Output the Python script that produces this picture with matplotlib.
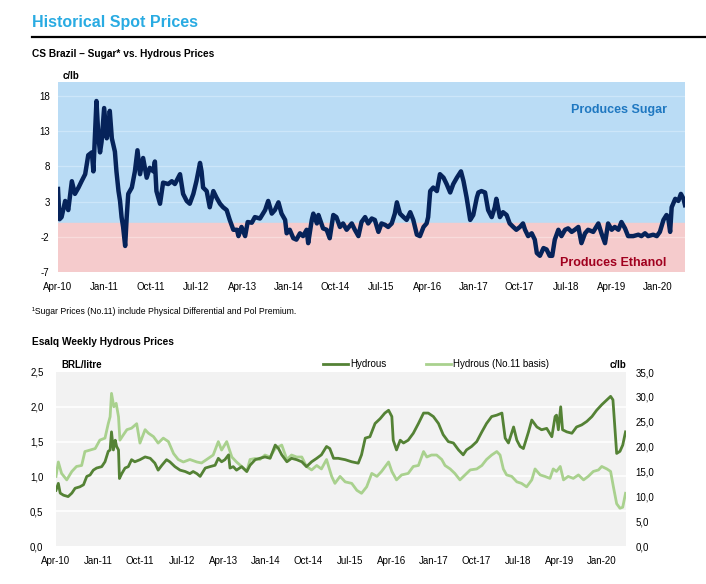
import numpy as np
import matplotlib.pyplot as plt
from matplotlib.lines import Line2D
from matplotlib.ticker import FuncFormatter

plt.rcParams['font.family'] = ['Liberation Sans', 'DejaVu Sans']
plt.rcParams['axes.unicode_minus'] = False

# x positions are months since Apr-2010
tick_labels = ["Apr-10", "Jan-11", "Oct-11", "Jul-12", "Apr-13", "Jan-14", "Oct-14",
               "Jul-15", "Apr-16", "Jan-17", "Oct-17", "Jul-18", "Apr-19", "Jan-20"]
tick_months = [0, 9, 18, 27, 36, 45, 54, 63, 72, 81, 90, 99, 108, 117]

# top chart: sugar (No.11 + premium) minus hydrous parity, c/lb
spread_m = [0, 0.3, 0.7, 1.4, 2.0, 2.7, 3.3, 4.0, 4.6, 5.3, 5.9, 6.6, 6.9, 7.2, 7.5, 7.9,
            8.2, 8.5, 9.0, 9.5, 9.8, 10.1, 10.5, 11.1, 11.4, 11.8, 12.1, 12.4, 12.7, 13.1,
            13.4, 13.7, 14.4, 15.0, 15.5, 16.0, 16.6, 17.3, 17.9, 18.6, 18.9, 19.2, 19.9,
            20.5, 21.5, 22.2, 22.8, 23.8, 24.4, 25.1, 25.7, 26.4, 27.0, 27.7, 28.0, 28.3,
            29.0, 29.6, 30.3, 30.9, 31.6, 32.2, 32.9, 33.5, 34.2, 34.9, 35.2, 35.8, 36.5,
            37.0, 37.8, 38.4, 39.4, 40.4, 41.0, 41.7, 42.3, 43.0, 43.6, 44.3, 44.6, 45.2,
            45.9, 46.5, 47.2, 47.8, 48.5, 48.8, 49.5, 49.8, 50.5, 50.8, 51.7, 52.4, 53.0,
            53.7, 54.3, 55.0, 55.6, 56.3, 57.3, 57.9, 58.6, 59.2, 59.9, 60.5, 61.2, 61.8,
            62.5, 63.1, 63.8, 64.4, 65.1, 65.7, 66.1, 66.7, 67.4, 68.0, 68.7, 69.3, 70.0,
            70.6, 71.3, 71.9, 72.2, 72.6, 73.2, 73.9, 74.5, 75.2, 75.8, 76.5, 77.1, 77.8,
            78.6, 79.1, 79.7, 80.4, 81.0, 81.7, 82.0, 82.6, 83.3, 83.9, 84.6, 85.2, 85.5,
            86.2, 86.8, 87.5, 88.1, 88.8, 89.4, 90.1, 90.7, 91.1, 91.7, 92.4, 93.0, 93.4,
            94.0, 94.7, 95.3, 95.9, 96.4, 96.9, 97.6, 98.2, 98.9, 99.5, 100.2, 100.8, 101.5,
            102.1, 102.8, 103.4, 104.4, 105.4, 106.0, 106.7, 107.3, 108.0, 108.6, 109.3,
            109.9, 110.6, 111.2, 112.2, 113.2, 113.8, 114.5, 115.1, 116.1, 116.8, 117.4,
            118.1, 118.7, 119.0, 119.4, 119.7, 120.4, 121.0, 121.5, 122.0, 122.3]
spread_v = [4.8, 0.5, 0.8, 3.1, 1.8, 5.9, 4.1, 5.0, 5.9, 6.9, 9.6, 10.0, 7.3, 12.4, 17.3, 12.0,
            10.0, 11.5, 16.3, 12.0, 13.0, 15.9, 12.0, 10.1, 7.3, 4.5, 3.1, 0.8, -0.6, -3.3,
            0.8, 4.1, 5.0, 7.3, 10.3, 6.9, 9.2, 6.4, 7.8, 7.3, 8.7, 4.5, 2.7,
            5.7, 5.5, 5.9, 5.5, 6.9, 4.1, 3.1, 2.7, 4.1, 5.9, 8.5, 7.3, 5.0,
            4.5, 2.2, 4.5, 3.6, 2.7, 2.2, 1.8, 0.4, -1.0, -1.0, -1.9, -0.6, -1.9,
            0.1, 0.0, 0.8, 0.6, 1.8, 3.1, 1.3, 1.8, 2.9, 1.3, 0.4, -1.5, -1.0,
            -2.2, -2.4, -1.5, -1.9, -1.0, -2.9, 0.4, 1.3, -0.1, 1.1, -0.8, -1.0, -2.2,
            1.1, 0.8, -0.6, -0.1, -1.0, -0.1, -1.0, -1.9, 0.1, 0.8, -0.1, 0.6, 0.4,
            -1.3, -0.1, -0.3, -0.6, -0.1, 1.3, 2.9, 1.3, 0.8, 0.4, 1.5, 0.4, -1.7,
            -1.9, -0.6, -0.1, 0.8, 4.5, 5.0, 4.5, 6.9, 6.4, 5.5, 4.3, 5.5, 6.4,
            7.3, 5.9, 3.6, 0.4, 1.1, 3.6, 4.3, 4.5, 4.3, 1.8, 0.8, 2.2, 3.4,
            0.8, 1.5, 1.1, -0.1, -0.6, -1.0, -0.6, -0.1, -1.0, -1.9, -1.5, -2.4, -4.3,
            -4.7, -3.6, -3.8, -4.7, -4.7, -2.4, -1.0, -1.9, -1.0, -0.8, -1.3, -1.0, -0.6,
            -2.9, -1.5, -1.0, -1.3, -0.1, -1.5, -2.9, -0.1, -1.0, -0.6, -1.0,
            0.1, -0.8, -1.9, -1.9, -1.7, -1.9, -1.5, -1.9, -1.7, -1.9, -1.3,
            0.4, 1.1, 0.8, -1.3, 2.2, 3.4, 3.1, 4.1, 3.4, 2.5]

# bottom chart: Esalq hydrous, BRL/litre (left axis)
hyd_m = [0, 0.5, 0.9, 1.6, 2.6, 3.4, 4.1, 5.1, 5.9, 6.6, 7.3, 8.0, 8.7, 9.8, 10.5, 11.2,
         11.6, 11.9, 12.3, 12.7, 13.0, 13.4, 13.6, 14.1, 14.8, 15.5, 16.2, 16.9, 18.0,
         19.1, 20.2, 21.2, 21.9, 22.7, 23.7, 24.4, 25.5, 26.6, 27.7, 28.7, 29.4, 30.2,
         30.9, 32.0, 33.0, 34.1, 34.8, 35.5, 36.2, 37.0, 37.3, 38.0, 38.7, 39.8, 40.9,
         41.6, 42.7, 43.7, 44.8, 45.9, 47.0, 47.7, 48.4, 49.5, 50.5, 51.6, 52.7, 53.7,
         54.8, 55.9, 56.9, 58.0, 58.7, 59.5, 60.5, 62.0, 63.4, 64.8, 65.5, 66.3, 67.3,
         68.4, 69.5, 70.5, 71.3, 72.0, 72.3, 73.0, 73.8, 74.5, 75.5, 76.6, 77.7, 78.8,
         79.8, 80.9, 82.0, 83.0, 84.1, 85.2, 86.3, 87.3, 88.0, 89.1, 90.2, 91.3, 92.3,
         93.4, 94.5, 95.6, 96.3, 97.0, 98.1, 98.8, 99.5, 100.2, 101.3, 102.0, 103.1,
         104.1, 105.2, 106.3, 107.0, 107.3, 107.7, 108.2, 108.6, 109.5, 110.6, 111.6,
         112.7, 113.8, 114.9, 115.9, 117.0, 118.1, 118.9, 119.4, 119.9, 120.2, 120.9,
         121.5, 122.1]
hyd_v = [0.80, 0.90, 0.76, 0.73, 0.71, 0.76, 0.83, 0.85, 0.88, 1.00, 1.02, 1.09, 1.12, 1.14, 1.21, 1.36,
         1.38, 1.64, 1.38, 1.52, 1.43, 1.38, 0.97, 1.04, 1.12, 1.14, 1.24, 1.21, 1.24,
         1.28, 1.26, 1.19, 1.09, 1.16, 1.24, 1.21, 1.14, 1.09, 1.07, 1.04, 1.07, 1.04,
         1.00, 1.12, 1.14, 1.16, 1.26, 1.21, 1.24, 1.31, 1.12, 1.14, 1.09, 1.14, 1.07,
         1.16, 1.24, 1.26, 1.28, 1.26, 1.45, 1.40, 1.31, 1.21, 1.26, 1.24, 1.21, 1.14,
         1.21, 1.26, 1.31, 1.43, 1.40, 1.26, 1.26, 1.24, 1.21, 1.19, 1.31, 1.55, 1.57,
         1.76, 1.83, 1.91, 1.95, 1.86, 1.52, 1.38, 1.52, 1.48, 1.52, 1.62, 1.76, 1.91,
         1.91, 1.86, 1.76, 1.60, 1.50, 1.48, 1.38, 1.31, 1.38, 1.43, 1.50, 1.64, 1.76,
         1.86, 1.88, 1.91, 1.55, 1.48, 1.71, 1.52, 1.43, 1.40, 1.64, 1.81, 1.71,
         1.67, 1.69, 1.57, 1.86, 1.88, 1.67, 2.00, 1.67, 1.64, 1.62, 1.71,
         1.74, 1.79, 1.86, 1.95, 2.03, 2.10, 2.15, 2.10, 1.62, 1.33, 1.36,
         1.45, 1.64]

# hydrous on No.11 basis, c/lb (right axis)
basis_m = [0, 0.5, 1.2, 2.3, 3.4, 4.4, 5.5, 6.2, 7.3, 8.4, 9.4, 10.5, 11.2, 11.6, 11.9, 12.4,
           12.9, 13.4, 13.7, 14.4, 15.2, 16.2, 17.3, 18.0, 19.1, 19.8, 20.9, 21.9, 23.0,
           24.1, 25.2, 26.2, 27.3, 28.7, 30.2, 31.2, 32.3, 33.7, 34.8, 35.5, 36.6, 37.7,
           38.7, 39.8, 40.9, 41.6, 42.7, 43.7, 44.8, 45.9, 47.0, 48.4, 49.5, 50.5, 51.6,
           52.7, 53.7, 54.8, 55.9, 56.9, 58.0, 59.1, 59.8, 60.9, 62.0, 63.4, 64.5, 65.5,
           66.6, 67.7, 68.8, 69.8, 71.3, 72.0, 73.0, 74.1, 75.5, 76.6, 77.7, 78.8, 79.5,
           80.5, 81.6, 82.7, 83.4, 84.5, 85.5, 86.6, 87.7, 88.8, 90.2, 91.3, 92.3, 93.4,
           94.5, 95.2, 95.9, 96.6, 97.7, 98.8, 99.8, 100.9, 102.0, 102.7, 103.8, 104.8,
           105.9, 106.6, 107.3, 108.1, 108.8, 109.8, 110.9, 112.0, 113.1, 114.1, 115.2,
           116.3, 117.0, 118.1, 118.9, 119.5, 120.2, 120.9, 121.5, 122.1]
basis_v = [14.0, 16.9, 14.6, 13.3, 15.0, 16.0, 16.2, 19.0, 19.3, 19.6, 21.3, 21.7, 24.6, 26.0, 30.7, 28.0,
           28.7, 26.0, 21.3, 22.3, 23.4, 23.7, 24.6, 20.7, 23.4, 22.7, 22.0, 20.7, 21.7,
           21.0, 18.6, 17.4, 16.9, 17.4, 16.9, 16.7, 17.4, 18.3, 21.0, 19.3, 21.0, 17.9,
           16.9, 16.0, 15.0, 17.4, 17.6, 17.4, 18.3, 17.9, 19.6, 20.3, 17.4, 18.3, 17.9,
           17.9, 16.0, 15.3, 16.2, 15.5, 17.4, 14.0, 12.6, 14.0, 12.9, 12.6, 11.2, 10.6,
           11.9, 14.6, 14.0, 15.0, 16.9, 15.0, 13.3, 14.3, 14.6, 16.0, 16.2, 19.0, 17.9,
           18.3, 18.3, 17.4, 16.2, 15.5, 14.6, 13.3, 14.3, 15.3, 15.5, 16.2, 17.4, 18.3,
           19.0, 18.3, 15.5, 14.3, 14.0, 12.9, 12.6, 11.9, 13.3, 15.5, 14.3, 14.0,
           13.6, 15.5, 15.0, 16.0, 13.3, 14.0, 13.6, 14.3, 13.3, 14.0, 15.0,
           15.3, 16.0, 15.5, 15.0, 11.9, 8.5, 7.6, 7.8, 10.6]

fig = plt.figure(figsize=(7.06, 5.84), dpi=100)

# page headings
fig.text(32 / 706, 1 - 22 / 584, "Historical Spot Prices", fontsize=11.5, fontweight='bold',
         color='#29abe2', va='center', ha='left')
fig.add_artist(Line2D([32 / 706, 1.0], [1 - 36.5 / 584] * 2, color='black', lw=1.6))
fig.text(32 / 706, 1 - 54 / 584, "CS Brazil \u2013 Sugar* vs. Hydrous Prices", fontsize=7.3,
         fontweight='bold', va='center', ha='left')
fig.text(32 / 706, 1 - 311 / 584,
         "\u00b9Sugar Prices (No.11) include Physical Differential and Pol Premium.",
         fontsize=6.2, va='center', ha='left')
fig.text(32 / 706, 1 - 342 / 584, "Esalq Weekly Hydrous Prices", fontsize=7.3,
         fontweight='bold', va='center', ha='left')

# ---- top chart
ax1 = fig.add_axes([58 / 706, 1 - 272 / 584, 627 / 706, 190 / 584])
ax1.axhspan(0, 20, color='#badcf5', zorder=0)
ax1.axhspan(-7, 0, color='#f5cbcc', zorder=0)
for g in [18, 13, 8, 3]:
    ax1.axhline(g, color='#cde6f9', lw=0.9, zorder=1)
ax1.axhline(-2, color='#f8dcdc', lw=0.9, zorder=1)
ax1.plot(spread_m, spread_v, color='#06235a', lw=3.2, zorder=3, solid_joinstyle='round')
ax1.set_xlim(0, 122.3)
ax1.set_ylim(-7, 20)
ax1.set_yticks([-7, -2, 3, 8, 13, 18])
ax1.set_xticks(tick_months)
ax1.set_xticklabels(tick_labels)
for s in ax1.spines.values():
    s.set_visible(False)
ax1.tick_params(length=0, labelsize=7)
ax1.tick_params(axis='y', pad=6)
ax1.tick_params(axis='x', pad=7)
ax1.text(5 / 627, 1.003, "c/lb", transform=ax1.transAxes, fontsize=7, fontweight='bold',
         ha='left', va='bottom')
ax1.text(0.895, 0.85, "Produces Sugar", transform=ax1.transAxes, fontsize=9,
         fontweight='bold', color='#1f78c1', ha='center', va='center')
ax1.text(0.885, 0.045, "Produces Ethanol", transform=ax1.transAxes, fontsize=9,
         fontweight='bold', color='#a0001e', ha='center', va='center', zorder=4)

# ---- bottom chart
ax2 = fig.add_axes([56 / 706, 1 - 546 / 584, 570 / 706, 174 / 584])
ax3 = ax2.twinx()
ax3.patch.set_visible(True)
ax3.set_facecolor('#f2f2f2')
for g in [7, 14, 21, 28]:
    ax3.axhline(g, color='white', lw=1.2, zorder=1)
ax2.plot(hyd_m, hyd_v, color='#548235', lw=2.0, zorder=4)
ax3.plot(basis_m, basis_v, color='#a9d18e', lw=2.0, zorder=3)
ax2.set_zorder(ax3.get_zorder() + 1)
ax2.patch.set_visible(False)
ax2.set_xlim(0, 122.2)
ax2.set_ylim(0, 2.5)
ax3.set_ylim(0, 35)
ax2.set_yticks([0, 0.5, 1.0, 1.5, 2.0, 2.5])
ax3.set_yticks([0, 5, 10, 15, 20, 25, 30, 35])
ax2.yaxis.set_major_formatter(FuncFormatter(lambda v, p: f"{v:.1f}".replace('.', ',')))
ax3.yaxis.set_major_formatter(FuncFormatter(lambda v, p: f"{v:.1f}".replace('.', ',')))
ax2.set_xticks(tick_months)
ax2.set_xticklabels(tick_labels)
for a in (ax2, ax3):
    for s in a.spines.values():
        s.set_visible(False)
    a.tick_params(length=0, labelsize=7)
ax2.tick_params(axis='y', pad=9)
ax3.tick_params(axis='y', pad=7)
ax2.tick_params(axis='x', pad=7)
ax2.text(5 / 570, 1.01, "BRL/litre", transform=ax2.transAxes, fontsize=7, fontweight='bold',
         ha='left', va='bottom')
ax2.text(1.0, 1.01, "c/lb", transform=ax2.transAxes, fontsize=7, fontweight='bold',
         ha='right', va='bottom')

handles = [Line2D([], [], color='#548235', lw=2.0), Line2D([], [], color='#a9d18e', lw=2.0)]
fig.legend(handles, ["Hydrous", "Hydrous (No.11 basis)"], loc='center left',
           bbox_to_anchor=(318 / 706, 1 - 364 / 584), ncol=2, frameon=False, fontsize=7,
           handlelength=2.6, handletextpad=0.25, columnspacing=4.0, borderpad=0)

fig.savefig("out.png", dpi=100)
